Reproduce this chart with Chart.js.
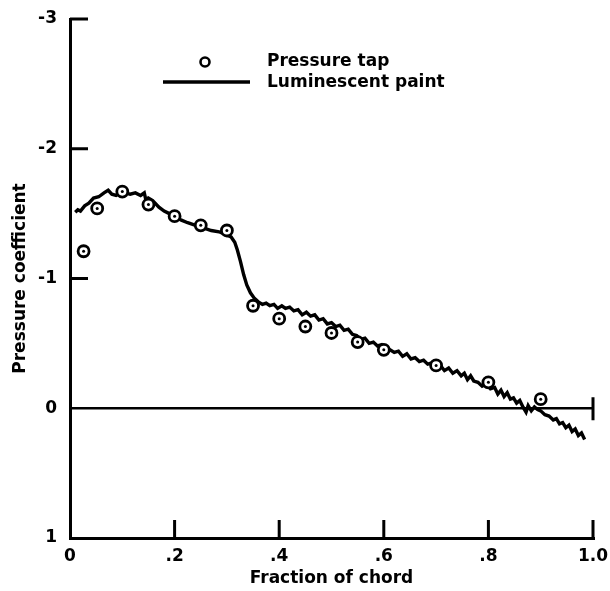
<!DOCTYPE html>
<html>
<head>
<meta charset="utf-8">
<script src="https://cdn.jsdelivr.net/npm/chart.js@4/dist/chart.umd.min.js"></script>
<style>
  html, body { margin: 0; padding: 0; background: #fff; }
  #wrap { width: 610px; height: 591px; }
</style>
</head>
<body>
<div id="wrap"><canvas id="chart"></canvas></div>
<script>
// pressure taps
const tapX = [0.026, 0.052, 0.1, 0.15, 0.2, 0.25, 0.3, 0.35, 0.4, 0.45, 0.5, 0.55, 0.6, 0.7, 0.8, 0.9];
const tapY = [-1.21, -1.54, -1.67, -1.57, -1.48, -1.41, -1.37, -0.79, -0.69, -0.63, -0.58, -0.51, -0.45, -0.33, -0.20, -0.07];

// luminescent paint trace
const paintX = [0.010, 0.015, 0.020, 0.028, 0.036, 0.045, 0.055, 0.065, 0.073, 0.080, 0.088, 0.095, 0.105, 0.115, 0.125, 0.135, 0.142, 0.146, 0.150, 0.158,
  0.170, 0.180, 0.190, 0.200, 0.213, 0.225, 0.240, 0.255, 0.270, 0.285, 0.297, 0.308, 0.315, 0.320, 0.326, 0.332, 0.338, 0.345, 0.352, 0.360,
  0.368, 0.375, 0.382, 0.390, 0.397, 0.405, 0.412, 0.420, 0.428, 0.436, 0.444, 0.452, 0.460, 0.468, 0.476, 0.484, 0.492, 0.500, 0.508, 0.516,
  0.524, 0.532, 0.540, 0.548, 0.556, 0.564, 0.572, 0.580, 0.588, 0.596, 0.604, 0.612, 0.620, 0.628, 0.636, 0.644, 0.652, 0.660, 0.668, 0.676,
  0.684, 0.692, 0.700, 0.708, 0.716, 0.724, 0.732, 0.740, 0.748, 0.754, 0.760, 0.766, 0.772, 0.780, 0.788, 0.796, 0.804, 0.812, 0.818, 0.824,
  0.830, 0.836, 0.842, 0.848, 0.854, 0.860, 0.866, 0.872, 0.876, 0.882, 0.888, 0.894, 0.900, 0.908, 0.916, 0.924, 0.930, 0.936, 0.942, 0.948,
  0.954, 0.960, 0.966, 0.972, 0.978, 0.984];
const paintY = [-1.51, -1.53, -1.52, -1.56, -1.58, -1.62, -1.63, -1.66, -1.68, -1.65, -1.64, -1.66, -1.66, -1.65, -1.66, -1.64, -1.66, -1.59, -1.62, -1.60,
  -1.55, -1.52, -1.50, -1.48, -1.45, -1.43, -1.41, -1.39, -1.37, -1.36, -1.34, -1.32, -1.28, -1.22, -1.13, -1.03, -0.95, -0.89, -0.85, -0.82,
  -0.80, -0.81, -0.79, -0.80, -0.77, -0.79, -0.77, -0.78, -0.75, -0.76, -0.72, -0.74, -0.71, -0.72, -0.68, -0.69, -0.65, -0.66, -0.63, -0.64,
  -0.60, -0.61, -0.57, -0.56, -0.53, -0.54, -0.50, -0.51, -0.48, -0.49, -0.46, -0.45, -0.43, -0.44, -0.40, -0.42, -0.38, -0.39, -0.36, -0.37,
  -0.34, -0.35, -0.32, -0.33, -0.29, -0.31, -0.27, -0.29, -0.25, -0.27, -0.22, -0.25, -0.21, -0.20, -0.17, -0.19, -0.15, -0.16, -0.11, -0.14,
  -0.09, -0.12, -0.07, -0.08, -0.04, -0.06, -0.01, 0.03, -0.02, 0.02, -0.01, 0.01, 0.02, 0.05, 0.06, 0.09, 0.08, 0.12, 0.11, 0.15,
  0.13, 0.18, 0.16, 0.21, 0.19, 0.24];

const xTickValues = [0, 0.2, 0.4, 0.6, 0.8, 1];
const xTickLabels = ['0', '.2', '.4', '.6', '.8', '1.0'];
const yTickValues = [-3, -2, -1, 0, 1];
const yTickLabels = ['-3', '-2', '-1', '0', '1'];
const seriesNames = ['Pressure tap', 'Luminescent paint'];

const FONT = 'DejaVu Sans';
const taps = tapX.map((x, i) => ({x: x, y: tapY[i]}));
const paint = paintX.map((x, i) => ({x: x, y: paintY[i]}));

const labelFor = (vals, labels) => v => {
    const i = vals.findIndex(t => Math.abs(t - v) < 1e-6);
    return i < 0 ? '' : labels[i];
};

// inward ticks, end tick on the zero line, hand-placed legend
const decor = {
    id: 'decor',
    afterDraw(chart) {
        const {ctx, chartArea: a, scales: {x, y}} = chart;
        ctx.save();
        ctx.strokeStyle = '#000';
        ctx.lineWidth = 3;
        ctx.beginPath();
        y.ticks.forEach(t => {
            if (t.value >= 0) return;
            const py = y.getPixelForValue(t.value);
            ctx.moveTo(a.left, py);
            ctx.lineTo(a.left + 18, py);
        });
        x.ticks.forEach(t => {
            if (t.value <= 0) return;
            const px = x.getPixelForValue(t.value);
            ctx.moveTo(px, a.bottom);
            ctx.lineTo(px, a.bottom - 18);
        });
        const z = y.getPixelForValue(0);
        ctx.moveTo(a.right, z - 11);
        ctx.lineTo(a.right, z + 12);
        ctx.stroke();

        // legend
        ctx.lineWidth = 2.6;
        ctx.beginPath();
        ctx.arc(205, 62, 4.5, 0, Math.PI * 2);
        ctx.stroke();
        ctx.lineWidth = 3.5;
        ctx.beginPath();
        ctx.moveTo(163, 82);
        ctx.lineTo(250, 82);
        ctx.stroke();
        ctx.fillStyle = '#000';
        ctx.font = 'bold 17px "' + FONT + '"';
        ctx.textBaseline = 'middle';
        ctx.textAlign = 'left';
        ctx.fillText(seriesNames[0], 267, 62);
        ctx.fillText(seriesNames[1], 267, 83);
        ctx.restore();
    }
};

new Chart(document.getElementById('chart'), {
    type: 'scatter',
    data: {
        datasets: [
            {
                label: 'dots',
                data: taps,
                pointRadius: 1.5,
                pointBorderWidth: 0,
                pointBackgroundColor: '#000',
            },
            {
                label: seriesNames[0],
                data: taps,
                pointRadius: 5.5,
                pointBorderWidth: 2.8,
                pointBorderColor: '#000',
                pointBackgroundColor: '#fff',
            },
            {
                label: seriesNames[1],
                data: paint,
                showLine: true,
                borderColor: '#000',
                borderWidth: 3.4,
                pointRadius: 0,
                tension: 0,
            }
        ]
    },
    options: {
        responsive: true,
        maintainAspectRatio: false,
        animation: false,
        layout: {padding: {left: 0, top: 19, right: 17, bottom: 0}},
        plugins: {legend: {display: false}, tooltip: {enabled: false}},
        scales: {
            x: {
                type: 'linear',
                min: 0,
                max: 1,
                grid: {display: true, drawOnChartArea: false, drawTicks: false, color: '#000', lineWidth: 3},
                border: {display: true, color: '#000', width: 3},
                ticks: {
                    stepSize: 0.2,
                    autoSkip: false,
                    maxRotation: 0,
                    padding: 8,
                    color: '#000',
                    font: {family: FONT, size: 17, weight: 'bold'},
                    callback: labelFor(xTickValues, xTickLabels)
                },
                title: {
                    display: true,
                    text: 'Fraction of chord',
                    color: '#000',
                    font: {family: FONT, size: 17, weight: 'bold'},
                    padding: {top: 0, bottom: 2}
                },
                afterFit(s) {
                    s.height = 53;
                    s.paddingLeft = 0;
                    s.paddingRight = 0;
                }
            },
            y: {
                type: 'linear',
                min: -3,
                max: 1,
                reverse: true,
                grid: {
                    drawTicks: false,
                    lineWidth: 2.6,
                    color: c => (c.tick && c.tick.value === 0) ? '#000' : 'rgba(0,0,0,0)'
                },
                border: {display: true, color: '#000', width: 3},
                ticks: {
                    stepSize: 1,
                    padding: 13,
                    color: '#000',
                    font: {family: FONT, size: 17, weight: 'bold'},
                    callback: labelFor(yTickValues, yTickLabels)
                },
                title: {
                    display: true,
                    text: 'Pressure coefficient',
                    color: '#000',
                    font: {family: FONT, size: 17, weight: 'bold'},
                    padding: {top: 10, bottom: 0}
                },
                afterFit(s) {
                    s.width = 70;
                    s.paddingTop = 0;
                    s.paddingBottom = 0;
                }
            }
        }
    },
    plugins: [decor]
});
</script>
</body>
</html>
